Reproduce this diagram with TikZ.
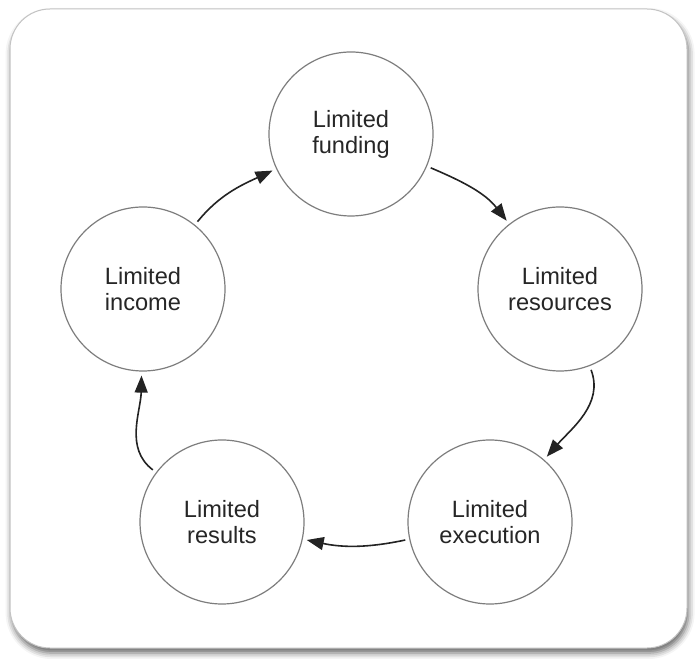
\documentclass[tikz,border=0pt]{standalone}
\usepackage{fontspec}
\setmainfont{Liberation Sans}
\usetikzlibrary{arrows.meta,shadows.blur}

\definecolor{ringgray}{RGB}{125,125,125}
\definecolor{flowgray}{RGB}{35,35,35}
\definecolor{framegray}{RGB}{195,195,195}

\tikzset{
  stage/.style={circle, draw=ringgray, line width=0.6pt, fill=white,
    minimum size=82pt, inner sep=0pt, align=center,
    font=\fontsize{11.8}{13}\selectfont, text=black!85},
  flow/.style={draw=flowgray, line width=0.8pt,
    -{Triangle[length=8.5pt,width=6.5pt]}, shorten <=2pt, shorten >=2pt},
}

\begin{document}
\begin{tikzpicture}[x=0.5pt,y=0.5pt]
  \useasboundingbox (0,0) rectangle (695,658);
  % Panel with soft shadow
  \draw[framegray, line width=0.5pt, fill=white, rounded corners=20pt,
    blur shadow={shadow xshift=0.8pt, shadow yshift=-2.5pt,
      shadow blur radius=3pt, shadow opacity=60}]
    (10,10) rectangle (687,649);
  % Stages of the cycle
  \node[stage] (funding)   at (351,524) {Limited\\funding};
  \node[stage] (resources) at (560,369) {Limited\\resources};
  \node[stage] (execution) at (490,136) {Limited\\execution};
  \node[stage] (results)   at (222,136) {Limited\\results};
  \node[stage] (income)    at (143,369) {Limited\\income};
  % Arrows, clockwise
  \draw[flow] (funding)   to[out=-23,in=128] (resources);
  \draw[flow] (resources) to[out=-69,in=49]  (execution);
  \draw[flow] (execution) to[out=192,in=-12] (results);
  \draw[flow] (results)   to[out=143,in=-91] (income);
  \draw[flow] (income)    to[out=51,in=205]  (funding);
\end{tikzpicture}
\end{document}
